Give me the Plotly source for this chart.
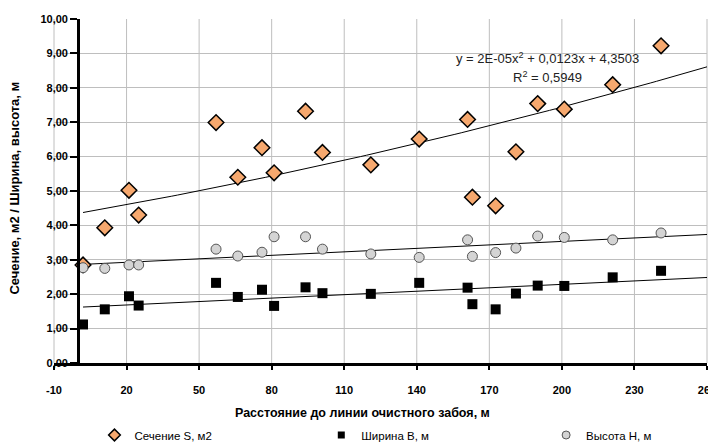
import plotly.graph_objects as go
import numpy as np

# ---- data ----
distance = [2, 11, 21, 25, 57, 66, 76, 81, 94, 101, 121, 141, 161, 163, 172.6, 181, 190, 201, 221, 241]
section_s = [2.85, 3.93, 5.02, 4.30, 6.99, 5.40, 6.26, 5.53, 7.32, 6.12, 5.76, 6.51, 7.08, 4.82, 4.57, 6.14, 7.54, 7.38, 8.09, 9.22]
width_b = [1.12, 1.56, 1.94, 1.67, 2.33, 1.92, 2.13, 1.66, 2.20, 2.03, 2.01, 2.33, 2.19, 1.71, 1.56, 2.02, 2.25, 2.24, 2.49, 2.68]
height_h = [2.77, 2.75, 2.85, 2.85, 3.31, 3.11, 3.22, 3.67, 3.67, 3.31, 3.17, 3.07, 3.58, 3.10, 3.21, 3.34, 3.69, 3.65, 3.58, 3.78]

x_ticks = [-10, 20, 50, 80, 110, 140, 170, 200, 230, 260]
y_ticks = [0, 1, 2, 3, 4, 5, 6, 7, 8, 9, 10]

# trendline coefficients (estimated from the drawn lines)
trend_s = [1.57e-5, 0.0123, 4.3503]   # quadratic
trend_b = [0.00333, 1.62]             # linear
trend_h = [0.00337, 2.86]             # linear
trend_x_range = [2, 260]

names = ["Сечение S, м2", "Ширина B, м", "Высота H, м"]
equation_text = "y = 2E-05x<sup>2</sup> + 0,0123x + 4,3503"
r2_text = "R<sup>2</sup> = 0,5949"

font_family = "Liberation Sans, Arial, sans-serif"
grid_color = "#BEBEBE"

series = [
    (section_s, dict(symbol="diamond", color="#F6A86E", line=dict(color="black", width=1.5)), 12, 9, "legend"),
    (width_b, dict(symbol="square", color="black", line=dict(color="black", width=0)), 10, 7, "legend2"),
    (height_h, dict(symbol="circle", color="#D4D4D4", line=dict(color="#555555", width=1)), 10, 8, "legend3"),
]

tx = np.linspace(trend_x_range[0], trend_x_range[1], 100)

fig = go.Figure()

for coeffs in (trend_s, trend_b, trend_h):
    fig.add_trace(go.Scatter(x=tx, y=np.polyval(coeffs, tx), mode="lines",
                             line=dict(color="black", width=1), showlegend=False,
                             hoverinfo="skip"))

for (vals, mk, size, leg_size, leg), name in zip(series, names):
    fig.add_trace(go.Scatter(x=distance, y=vals, mode="markers", name=name,
                             showlegend=False, marker=dict(size=size, **mk)))
    # legend-only entry with the smaller legend symbol
    fig.add_trace(go.Scatter(x=[None], y=[None], mode="markers", name=name,
                             legend=leg, showlegend=True,
                             marker=dict(size=leg_size, **mk)))

# the page body has an 8px margin, so the figure is drawn 8px in from the window corner
OFF = 8
W, H = 716 - OFF, 442 - OFF
L, R = 53.5 - OFF, 716 - 707
T, B = 19 - OFF, 442 - 363
pw = W - L - R
ph = H - T - B
x_range = [x_ticks[0], x_ticks[-1]]

def px_x(px):
    return (px - OFF - L) / pw

def px_y(py):
    return (H - B - (py - OFF)) / ph

# vertical gridlines (paper-referenced so the edge lines are not clipped)
for v in x_ticks:
    xp = (v - x_range[0]) / (x_range[1] - x_range[0])
    fig.add_shape(type="line", xref="paper", yref="paper", x0=xp, x1=xp, y0=0, y1=1,
                  line=dict(color=grid_color, width=1), layer="below")

legend_common = dict(orientation="h", yanchor="middle", y=px_y(435), xanchor="left",
                     font=dict(size=11.5, family=font_family), bgcolor="rgba(0,0,0,0)",
                     itemsizing="trace", itemwidth=30)

fig.update_layout(
    width=W, height=H,
    margin=dict(l=L, r=R, t=T, b=B, autoexpand=False),
    paper_bgcolor="white", plot_bgcolor="white",
    separators=", ",
    font=dict(family=font_family, size=11, color="black"),
    xaxis=dict(range=x_range, tickvals=x_ticks, ticktext=[str(v) for v in x_ticks],
               showgrid=False, automargin=False, ticklabeloverflow="allow",
               showline=True, linecolor="black", linewidth=3,
               ticks="outside", ticklen=4, tickcolor="black", tickwidth=1.5,
               tickfont=dict(size=11, family=font_family, weight="bold"),
               ticklabelstandoff=11, zeroline=False),
    yaxis=dict(range=[0, 10], tickvals=y_ticks, tickformat=".2f",
               anchor="free", position=px_x(77.7), automargin=False,
               ticklabeloverflow="allow",
               showgrid=True, gridcolor=grid_color, gridwidth=1,
               showline=True, linecolor="black", linewidth=3,
               ticks="outside", ticklen=7, tickcolor="black", tickwidth=1.5,
               tickfont=dict(size=11, family=font_family, weight="bold"),
               zeroline=False),
    legend=dict(x=px_x(94), **legend_common),
    legend2=dict(x=px_x(321), **legend_common),
    legend3=dict(x=px_x(546), **legend_common),
    showlegend=True,
)

fig.add_annotation(text="Расстояние до линии очистного забоя, м", xref="paper", yref="paper",
                   x=px_x(362), y=px_y(413), xanchor="center", yanchor="middle",
                   showarrow=False, font=dict(size=12.5, family=font_family, weight="bold"))
fig.add_annotation(text="Сечение, м2 / Ширина, высота, м", xref="paper", yref="paper",
                   x=px_x(13), y=px_y(188), xanchor="center", yanchor="middle",
                   textangle=-90, showarrow=False,
                   font=dict(size=13, family=font_family, weight="bold"))
fig.add_annotation(text=equation_text, xref="paper", yref="paper",
                   x=px_x(547), y=px_y(58), xanchor="center", yanchor="middle",
                   showarrow=False, font=dict(size=13, family=font_family, color="#222222"))
fig.add_annotation(text=r2_text, xref="paper", yref="paper",
                   x=px_x(547), y=px_y(77), xanchor="center", yanchor="middle",
                   showarrow=False, font=dict(size=13, family=font_family, color="#222222"))

fig.write_html("out.html")
